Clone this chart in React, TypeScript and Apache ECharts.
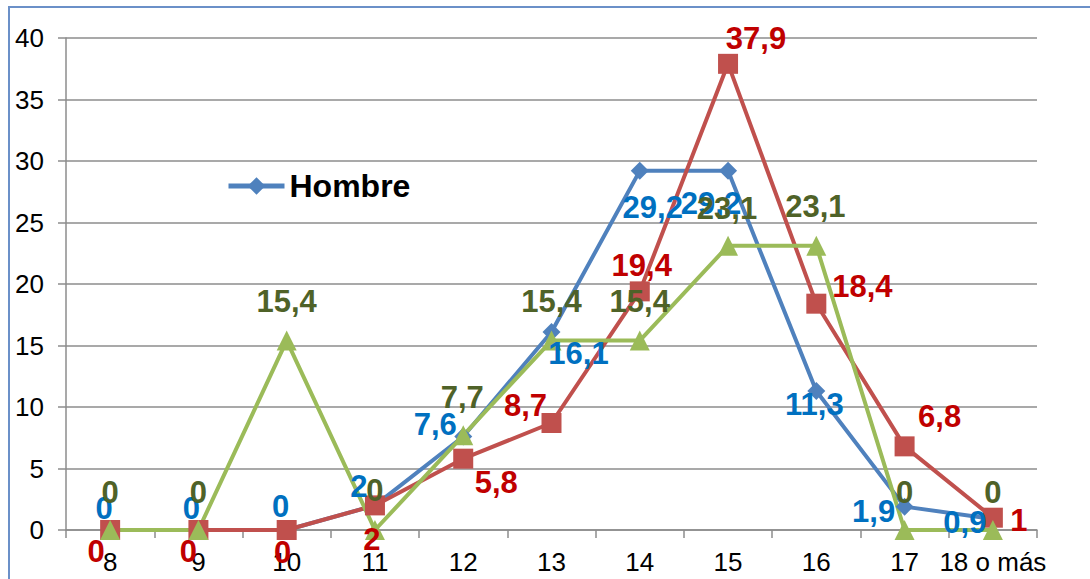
import React, { useEffect, useRef } from "react";
import * as echarts from "echarts";

// Age groups on the horizontal axis
const categories = ["8", "9", "10", "11", "12", "13", "14", "15", "16", "17", "18 o más"];

// Percentages per age
const hombre = [0, 0, 0, 2, 7.6, 16.1, 29.2, 29.2, 11.3, 1.9, 0.9];
const mujer = [0, 0, 0, 2, 5.8, 8.7, 19.4, 37.9, 18.4, 6.8, 1];
const otros = [0, 0, 15.4, 0, 7.7, 15.4, 15.4, 23.1, 23.1, 0, 0];

// Y axis ticks
const yMin = 0;
const yMax = 40;
const yStep = 5;

// Label placement relative to each marker (px)
const hombreLabelOffsets = [[-6, -22], [-7, -22], [-6, -24], [-16, -19], [-28, -12], [27, 22], [13, 37], [-17, 33], [-2, 13], [-31, 5], [-28, 4]];
const mujerLabelOffsets = [[-14, 21], [-10, 21], [-4, 22], [-3, 34], [33, 24], [-26, -17], [2, -26], [28, -25], [46, -17], [35, -30], [26, 3]];
const otrosLabelOffsets = [[0, -38], [0, -38], [0, -39], [0, -40], [-1, -38], [0, -39], [0, -39], [-1, -37], [-1, -39], [0, -38], [0, -38]];

const FONT = "'Liberation Sans', Arial, sans-serif";

const fmt = (v: number) => String(v).replace(".", ",");

function lineSeries(name: string, values: number[], lineColor: string, symbol: string, symbolSize: number) {
  return {
    name,
    type: "line",
    data: values,
    symbol,
    symbolSize,
    showAllSymbol: true,
    lineStyle: { color: lineColor, width: 4 },
    itemStyle: { color: lineColor },
    label: { show: false },
    emphasis: { disabled: true },
    z: 2,
  };
}

function labelSeries(name: string, values: number[], offsets: number[][], color: string) {
  return {
    name,
    type: "scatter",
    symbolSize: 1,
    itemStyle: { color: "rgba(0,0,0,0)", opacity: 1 },
    silent: true,
    z: 10,
    data: values.map((v, i) => ({
      value: v,
      label: {
        show: true,
        position: "inside",
        offset: offsets[i],
        formatter: fmt(v),
        color,
        opacity: 1,
        fontSize: 31,
        fontWeight: "bold",
        fontFamily: FONT,
        align: "center",
        verticalAlign: "middle",
      },
    })),
  };
}

export default function App() {
  const ref = useRef<HTMLDivElement>(null);

  useEffect(() => {
    if (!ref.current) return;
    const chart = echarts.init(ref.current, null, { renderer: "svg" });
    chart.setOption({
      animation: false,
      backgroundColor: "#ffffff",
      textStyle: { fontFamily: FONT },
      graphic: [
        {
          type: "rect",
          shape: { x: 9, y: 7, width: 1200, height: 700 },
          style: { fill: "none", stroke: "#6b90c8", lineWidth: 2 },
          silent: true,
          z: 0,
        },
      ],
      legend: {
        data: ["Hombre"],
        left: 226,
        top: 170,
        padding: 0,
        itemWidth: 56,
        itemHeight: 22,
        lineStyle: { width: 5 },
        textStyle: { fontSize: 32, fontWeight: "bold", color: "#000", fontFamily: FONT },
        selectedMode: false,
      },
      grid: { left: 66, right: 53, top: 38, bottom: 49, containLabel: false },
      xAxis: {
        type: "category",
        data: categories,
        boundaryGap: true,
        axisLine: { lineStyle: { color: "#8c8c8c", width: 1.5 } },
        axisTick: { show: true, length: 8, alignWithLabel: false, lineStyle: { color: "#8c8c8c", width: 1.5 } },
        axisLabel: { color: "#000", fontSize: 26, fontFamily: FONT, margin: 19, interval: 0 },
        splitLine: { show: false },
      },
      yAxis: {
        type: "value",
        min: yMin,
        max: yMax,
        interval: yStep,
        axisLine: { show: true, lineStyle: { color: "#8c8c8c", width: 1.5 } },
        axisTick: { show: true, length: 8, lineStyle: { color: "#8c8c8c", width: 1.5 } },
        axisLabel: { color: "#000", fontSize: 26, fontFamily: FONT, margin: 22 },
        splitLine: { show: true, lineStyle: { color: "#8c8c8c", width: 1.5 } },
      },
      series: [
        lineSeries("Hombre", hombre, "#4F81BD", "diamond", 18),
        lineSeries("Mujer", mujer, "#C0504D", "rect", 20),
        lineSeries("Otros", otros, "#9BBB59", "triangle", 20),
        labelSeries("Hombre etiquetas", hombre, hombreLabelOffsets, "#0070C0"),
        labelSeries("Mujer etiquetas", mujer, mujerLabelOffsets, "#C00000"),
        labelSeries("Otros etiquetas", otros, otrosLabelOffsets, "#4F6228"),
      ],
    });
    return () => chart.dispose();
  }, []);

  return (
    <div
      ref={ref}
      style={{ position: "absolute", left: 0, top: 0, width: 1090, height: 579 }}
    />
  );
}
